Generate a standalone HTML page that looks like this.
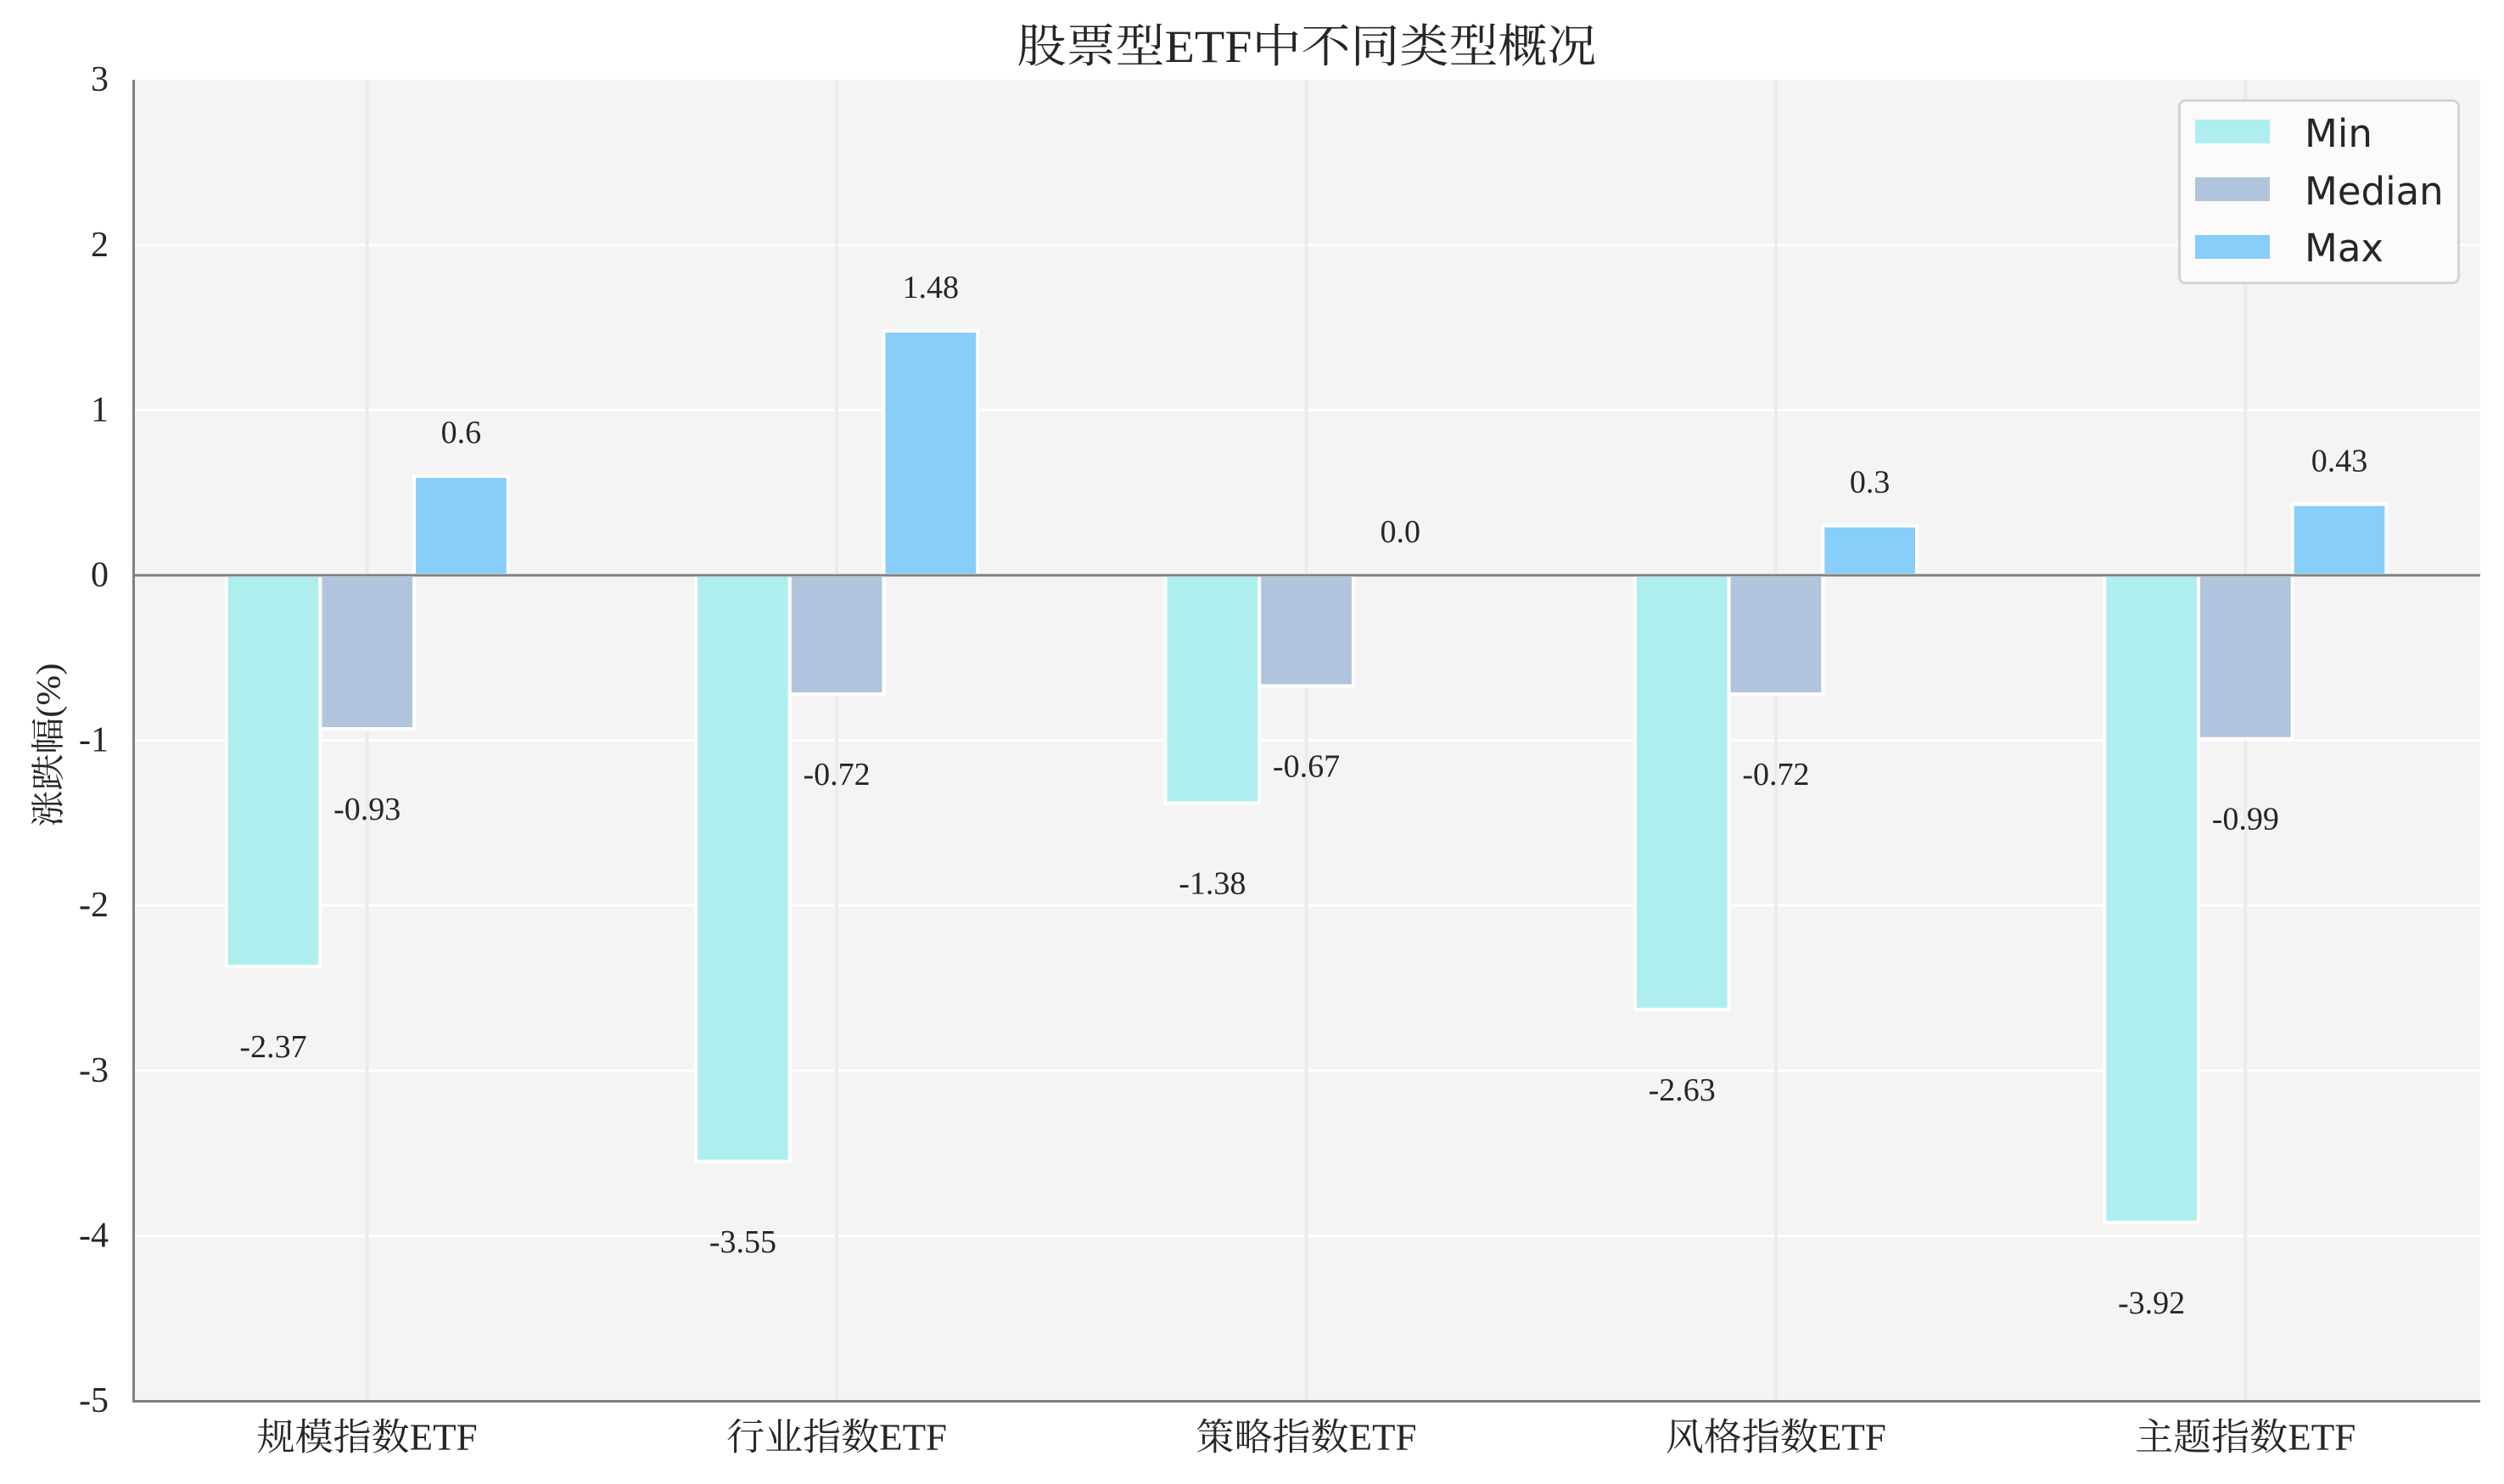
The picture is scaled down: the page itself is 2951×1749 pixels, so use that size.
<!DOCTYPE html>
<html>
<head>
<meta charset="utf-8">
<style>
  html, body { margin:0; padding:0; background:#ffffff; }
  svg { display:block; }
  .serif { font-family: "Liberation Serif", "Noto Serif CJK SC", serif; fill:#262626; }
  .sans { font-family: "DejaVu Sans", "Liberation Sans", sans-serif; fill:#262626; }
</style>
</head>
<body>
<svg width="2951" height="1749" viewBox="0 0 2951 1749" xmlns="http://www.w3.org/2000/svg">
  <rect x="0" y="0" width="2951" height="1749" fill="#ffffff"/>
  <!-- axes background -->
  <rect x="156" y="94" width="2767" height="1557" fill="#f4f4f4"/>

  <!-- horizontal gridlines (white) -->
  <g stroke="#ffffff" stroke-width="3">
    <line x1="156" y1="288.8" x2="2923" y2="288.8"/>
    <line x1="156" y1="483.4" x2="2923" y2="483.4"/>
    <line x1="156" y1="872.6" x2="2923" y2="872.6"/>
    <line x1="156" y1="1067.2" x2="2923" y2="1067.2"/>
    <line x1="156" y1="1261.8" x2="2923" y2="1261.8"/>
    <line x1="156" y1="1456.4" x2="2923" y2="1456.4"/>
  </g>
  <!-- vertical gridlines -->
  <g stroke="#ebebeb" stroke-width="4">
    <line x1="432.7" y1="94" x2="432.7" y2="1651"/>
    <line x1="986.1" y1="94" x2="986.1" y2="1651"/>
    <line x1="1539.5" y1="94" x2="1539.5" y2="1651"/>
    <line x1="2092.9" y1="94" x2="2092.9" y2="1651"/>
    <line x1="2646.3" y1="94" x2="2646.3" y2="1651"/>
  </g>

  <!-- bars -->
  <g stroke="#ffffff" stroke-width="4">
    <!-- 规模 -->
    <rect x="266.7" y="678" width="110.7" height="461.2" fill="#afeeee"/>
    <rect x="377.4" y="678" width="110.7" height="181.0" fill="#b0c4de"/>
    <rect x="488.1" y="561.2" width="110.7" height="116.8" fill="#87cefa"/>
    <!-- 行业 -->
    <rect x="820.1" y="678" width="110.7" height="690.8" fill="#afeeee"/>
    <rect x="930.8" y="678" width="110.7" height="140.1" fill="#b0c4de"/>
    <rect x="1041.5" y="390.0" width="110.7" height="288.0" fill="#87cefa"/>
    <!-- 策略 -->
    <rect x="1373.5" y="678" width="110.7" height="268.5" fill="#afeeee"/>
    <rect x="1484.2" y="678" width="110.7" height="130.4" fill="#b0c4de"/>
    <!-- 风格 -->
    <rect x="1926.9" y="678" width="110.7" height="511.8" fill="#afeeee"/>
    <rect x="2037.6" y="678" width="110.7" height="140.1" fill="#b0c4de"/>
    <rect x="2148.3" y="619.6" width="110.7" height="58.4" fill="#87cefa"/>
    <!-- 主题 -->
    <rect x="2480.3" y="678" width="110.7" height="762.8" fill="#afeeee"/>
    <rect x="2591.0" y="678" width="110.7" height="192.7" fill="#b0c4de"/>
    <rect x="2701.7" y="594.3" width="110.7" height="83.7" fill="#87cefa"/>
  </g>

  <!-- zero line -->
  <line x1="156" y1="678" x2="2923" y2="678" stroke="#808080" stroke-width="3"/>

  <!-- spines -->
  <line x1="157.5" y1="94" x2="157.5" y2="1652.5" stroke="#808080" stroke-width="3"/>
  <line x1="156" y1="1651.5" x2="2923" y2="1651.5" stroke="#808080" stroke-width="3"/>

  <!-- y tick labels -->
  <g class="serif" font-size="42" text-anchor="end" dominant-baseline="central">
    <text x="128" y="94.2">3</text>
    <text x="128" y="288.8">2</text>
    <text x="128" y="483.4">1</text>
    <text x="128" y="678">0</text>
    <text x="128" y="872.6">-1</text>
    <text x="128" y="1067.2">-2</text>
    <text x="128" y="1261.8">-3</text>
    <text x="128" y="1456.4">-4</text>
    <text x="128" y="1651">-5</text>
  </g>

  <!-- x tick labels -->
  <g class="serif" font-size="44" text-anchor="middle" dominant-baseline="central">
    <text x="432.7" y="1694" textLength="260" lengthAdjust="spacingAndGlyphs">规模指数ETF</text>
    <text x="986.1" y="1694" textLength="260" lengthAdjust="spacingAndGlyphs">行业指数ETF</text>
    <text x="1539.5" y="1694" textLength="260" lengthAdjust="spacingAndGlyphs">策略指数ETF</text>
    <text x="2092.9" y="1694" textLength="260" lengthAdjust="spacingAndGlyphs">风格指数ETF</text>
    <text x="2646.3" y="1694" textLength="260" lengthAdjust="spacingAndGlyphs">主题指数ETF</text>
  </g>

  <!-- value labels -->
  <g class="serif" font-size="38" text-anchor="middle" dominant-baseline="central">
    <text x="322.0" y="1234.2">-2.37</text>
    <text x="432.7" y="954.0">-0.93</text>
    <text x="543.4" y="510.2">0.6</text>

    <text x="875.4" y="1463.8">-3.55</text>
    <text x="986.1" y="913.1">-0.72</text>
    <text x="1096.8" y="339.0">1.48</text>

    <text x="1428.8" y="1041.5">-1.38</text>
    <text x="1539.5" y="903.4">-0.67</text>
    <text x="1650.2" y="627.0">0.0</text>

    <text x="1982.2" y="1284.8">-2.63</text>
    <text x="2092.9" y="913.1">-0.72</text>
    <text x="2203.6" y="568.6">0.3</text>

    <text x="2535.6" y="1535.8">-3.92</text>
    <text x="2646.3" y="965.7">-0.99</text>
    <text x="2757.0" y="543.3">0.43</text>
  </g>

  <!-- y axis label -->
  <text class="serif" font-size="40" text-anchor="middle" dominant-baseline="central"
        transform="translate(57,878) rotate(-90)" textLength="193" lengthAdjust="spacingAndGlyphs">涨跌幅(%)</text>

  <!-- title -->
  <text class="serif" font-size="54" x="1540" y="55" text-anchor="middle" dominant-baseline="central"
        textLength="683" lengthAdjust="spacingAndGlyphs">股票型ETF中不同类型概况</text>

  <!-- legend -->
  <rect x="2568.5" y="118.5" width="329" height="215" rx="7" ry="7" fill="#fbfbfb" stroke="#d4d4d4" stroke-width="3"/>
  <rect x="2587" y="141" width="88" height="28" fill="#afeeee"/>
  <rect x="2587" y="209" width="88" height="28" fill="#b0c4de"/>
  <rect x="2587" y="277" width="88" height="28" fill="#87cefa"/>
  <g class="sans" font-size="45">
    <text x="2716" y="173">Min</text>
    <text x="2716" y="241">Median</text>
    <text x="2716" y="308">Max</text>
  </g>
</svg>
</body>
</html>
